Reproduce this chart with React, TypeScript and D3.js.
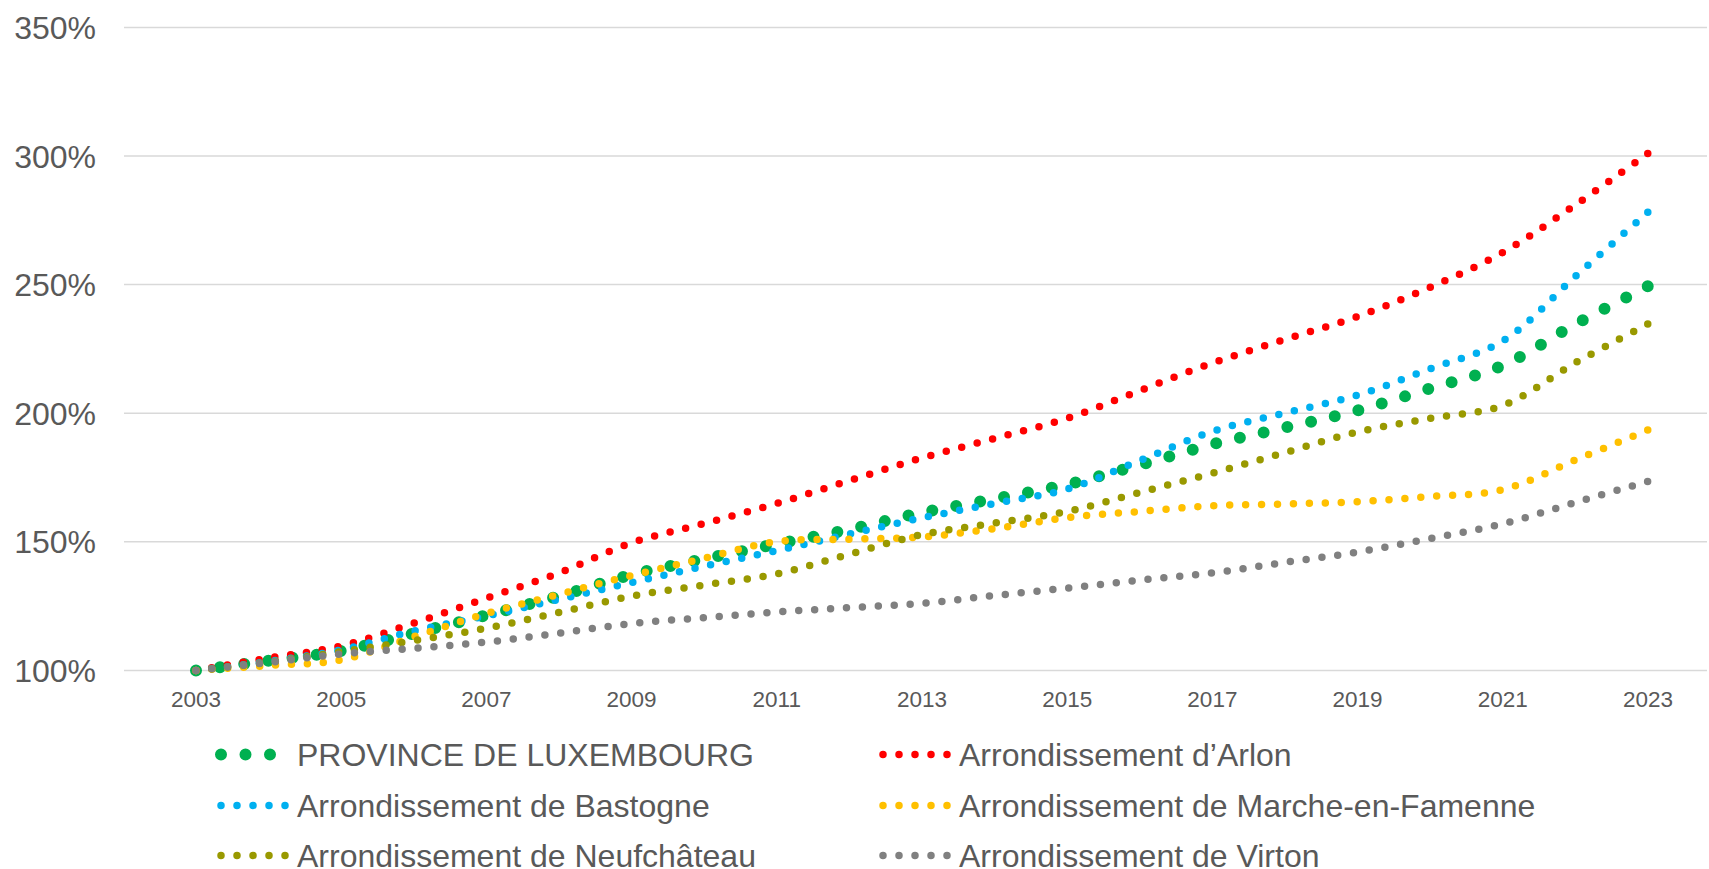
import React, { useEffect, useRef } from "react";
import * as d3 from "d3";

// yearly index values (2003 = 100%)
const years = d3.range(2003, 2024);
const xTickYears = [2003, 2005, 2007, 2009, 2011, 2013, 2015, 2017, 2019, 2021, 2023];
const yTickValues = [100, 150, 200, 250, 300, 350];

const province = [100, 103.8, 107.6, 114.4, 121.4, 128.9, 137.2, 143.3, 149.1, 154.8, 161.4, 166.7, 172.3, 179.9, 187.9, 194.4, 201.1, 209.6, 218.6, 234.6, 249.4];
const arlon = [100, 104.8, 109.5, 118.4, 128.1, 137.9, 149.6, 157.1, 164.9, 173.8, 182.6, 190.2, 198.0, 208.8, 219.5, 228.7, 237.6, 249.0, 262.5, 281, 301];
const bastogne = [100, 103.5, 108, 115.3, 121.2, 127.6, 134.2, 140.5, 146.6, 153.0, 159.3, 164.9, 170.5, 181.6, 192.9, 200.1, 207.0, 217.3, 228.1, 253.2, 278.2];
const marche = [100, 101.9, 104.1, 113.1, 122.1, 129.6, 136.9, 143.6, 150.1, 151.0, 151.9, 155.1, 159.4, 161.8, 164.0, 164.7, 165.6, 167.6, 170.3, 181.8, 193.5];
const neufchateau = [100, 103.2, 107.3, 111.6, 116.4, 122.5, 128.9, 133.2, 137.5, 145.2, 152.8, 157.3, 161.8, 169.2, 176.7, 184.7, 192.7, 198.0, 203.0, 219.6, 234.7];
const virton = [100, 103.1, 106.4, 108.6, 111.0, 114.5, 118.2, 120.5, 122.7, 124.4, 126.1, 129.1, 132.0, 135.1, 137.9, 142.0, 146.0, 151.3, 157.0, 165.3, 173.5];

const seriesNames = [
  "PROVINCE DE LUXEMBOURG",
  "Arrondissement d\u2019Arlon",
  "Arrondissement de Bastogne",
  "Arrondissement de Marche-en-Famenne",
  "Arrondissement de Neufch\u00e2teau",
  "Arrondissement de Virton",
];
const seriesValues = [province, arlon, bastogne, marche, neufchateau, virton];
const seriesColors = ["#00b050", "#ff0000", "#00b0f0", "#ffc000", "#999900", "#808080"];

const W = 1709;
const H = 869;
const FONT = "'Liberation Sans', Arial, sans-serif";
const TEXT = "#595959";

const App: React.FC = () => {
  const ref = useRef<SVGSVGElement>(null);

  useEffect(() => {
    const svg = d3.select(ref.current);
    svg.selectAll("*").remove();

    const gridLeft = 124,
      gridRight = 1707;

    const x = d3.scaleLinear().domain([2003, 2023]).range([196, 1648]);
    const y = d3.scaleLinear().domain([100, 350]).range([670.4, 27.4]);

    // gridlines
    svg
      .append("g")
      .selectAll("line")
      .data(yTickValues)
      .enter()
      .append("line")
      .attr("x1", gridLeft)
      .attr("x2", gridRight)
      .attr("y1", (d) => y(d))
      .attr("y2", (d) => y(d))
      .attr("stroke", "#d9d9d9")
      .attr("stroke-width", 1.5);

    // y labels
    svg
      .append("g")
      .selectAll("text")
      .data(yTickValues)
      .enter()
      .append("text")
      .attr("x", 96)
      .attr("y", (d) => y(d) + 11.5)
      .attr("text-anchor", "end")
      .attr("fill", TEXT)
      .style("font-family", FONT)
      .style("font-size", "32px")
      .text((d) => `${d}%`);

    // x labels
    svg
      .append("g")
      .selectAll("text")
      .data(xTickYears)
      .enter()
      .append("text")
      .attr("x", (d) => x(d))
      .attr("y", 706.5)
      .attr("text-anchor", "middle")
      .attr("fill", TEXT)
      .style("font-family", FONT)
      .style("font-size", "22.5px")
      .text((d) => String(d));

    const line = d3
      .line<number>()
      .x((_d, i) => x(years[i]))
      .y((d) => y(d))
      .curve(d3.curveCatmullRom.alpha(0.5));

    // green province series uses bigger dots
    const dotStyle = (i: number) =>
      i === 0 ? { w: 12, gap: 24.5 } : { w: 7.5, gap: 16 };

    seriesValues.forEach((vals, i) => {
      const s = dotStyle(i);
      const path = svg
        .append("path")
        .attr("d", line(vals) || "")
        .attr("fill", "none")
        .attr("stroke", seriesColors[i])
        .attr("stroke-width", s.w)
        .attr("stroke-linecap", "round");
      // stretch the gap a little so a dot falls on both ends
      const len = (path.node() as SVGPathElement).getTotalLength();
      const n = Math.max(1, Math.round(len / s.gap));
      const gap = (len - 0.5) / n;
      path.attr("stroke-dasharray", `0 ${gap}`);
    });

    // legend, 2 columns x 3 rows
    const colX = [221, 883];
    const textX = [297, 959];
    const rowY = [754.5, 805.5, 855.5];

    seriesNames.forEach((name, i) => {
      const col = i % 2;
      const row = Math.floor(i / 2);
      const s = dotStyle(i);
      const cy = rowY[row];
      svg
        .append("line")
        .attr("x1", colX[col])
        .attr("x2", colX[col] + (i === 0 ? 52 : 66))
        .attr("y1", cy)
        .attr("y2", cy)
        .attr("stroke", seriesColors[i])
        .attr("stroke-width", s.w)
        .attr("stroke-linecap", "round")
        .attr("stroke-dasharray", `0 ${s.gap}`);
      svg
        .append("text")
        .attr("x", textX[col])
        .attr("y", cy + 11)
        .attr("fill", TEXT)
        .style("font-family", FONT)
        .style("font-size", "32px")
        .text(name);
    });
  }, []);

  return (
    <svg
      ref={ref}
      width={W}
      height={H}
      style={{ position: "absolute", left: 0, top: 0, background: "#ffffff" }}
    />
  );
};

export default App;
